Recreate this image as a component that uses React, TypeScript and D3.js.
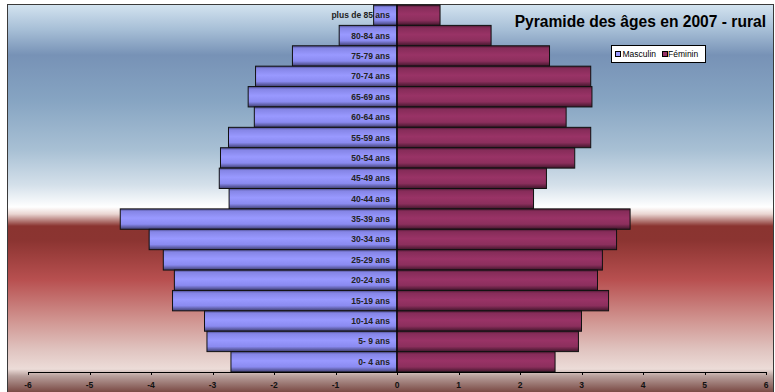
import React from "react";
import * as d3 from "d3";

const categories = [
  "0- 4 ans", "5- 9 ans", "10-14 ans", "15-19 ans", "20-24 ans", "25-29 ans",
  "30-34 ans", "35-39 ans", "40-44 ans", "45-49 ans", "50-54 ans", "55-59 ans",
  "60-64 ans", "65-69 ans", "70-74 ans", "75-79 ans", "80-84 ans", "plus de 85 ans",
];
const masculin = [2.70, 3.09, 3.13, 3.65, 3.62, 3.80, 4.03, 4.50, 2.73, 2.89, 2.87, 2.74, 2.32, 2.42, 2.30, 1.70, 0.94, 0.38];
const feminin = [2.57, 2.95, 3.00, 3.44, 3.26, 3.34, 3.57, 3.79, 2.22, 2.43, 2.89, 3.15, 2.75, 3.17, 3.15, 2.48, 1.53, 0.70];
const xTicks = [-6, -5, -4, -3, -2, -1, 0, 1, 2, 3, 4, 5, 6];
const title = "Pyramide des âges en 2007 - rural";
const legendLabels = ["Masculin", "Féminin"];

const W = 775;
const H = 392;

export default function App() {
  const x = d3.scaleLinear().domain([-6, 6]).range([28, 766]);
  const order = [...categories].reverse();
  const y = d3.scaleBand().domain(order).range([5, 372]).padding(0);
  const bh = y.bandwidth();

  const bgStops: [number, string][] = [
    [4, "#d4e4f0"], [30, "#a6bed6"], [55, "#7792b6"], [100, "#86a4c2"], [150, "#a8c0d4"],
    [185, "#d4e0ea"], [207, "#ffffff"], [214, "#ead6d2"], [226, "#8a3430"], [240, "#8b3431"],
    [280, "#b85050"], [320, "#d09490"], [350, "#e0c4c0"], [369, "#ecdcd8"], [376, "#b8a09c"],
    [392, "#7a4a44"],
  ];

  const font = "Arial, 'Liberation Sans', Helvetica, sans-serif";

  return (
    <svg width={W} height={H} style={{ position: "absolute", left: 0, top: 0, display: "block" }}>
      <defs>
        <linearGradient id="bg" gradientUnits="userSpaceOnUse" x1={0} y1={4} x2={0} y2={392}>
          {bgStops.map(([py, c], i) => (
            <stop key={i} offset={(py - 4) / 388} stopColor={c} />
          ))}
        </linearGradient>
        <linearGradient id="gm" x1={0} y1={0} x2={0} y2={1}>
          <stop offset={0} stopColor="#4a4a88" />
          <stop offset={0.12} stopColor="#8585e6" />
          <stop offset={0.45} stopColor="#9999ff" />
          <stop offset={0.75} stopColor="#8a8af0" />
          <stop offset={1} stopColor="#3e3e70" />
        </linearGradient>
        <linearGradient id="gf" x1={0} y1={0} x2={0} y2={1}>
          <stop offset={0} stopColor="#4c1a33" />
          <stop offset={0.12} stopColor="#862c59" />
          <stop offset={0.45} stopColor="#993366" />
          <stop offset={0.75} stopColor="#8c2f5d" />
          <stop offset={1} stopColor="#40162b" />
        </linearGradient>
      </defs>
      <rect x={0} y={0} width={W} height={H} fill="#ffffff" />
      <rect x={7.5} y={4.5} width={766} height={400} fill="url(#bg)" stroke="#3a3a3a" strokeWidth={1} />

      {order.map((c) => {
        const i = categories.indexOf(c);
        const yy = y(c)!;
        return (
          <g key={c}>
            <rect
              x={x(-masculin[i])}
              y={yy}
              width={x(0) - x(-masculin[i])}
              height={bh}
              fill="url(#gm)"
              stroke="#111"
              strokeWidth={1}
            />
            <rect
              x={x(0)}
              y={yy}
              width={x(feminin[i]) - x(0)}
              height={bh}
              fill="url(#gf)"
              stroke="#111"
              strokeWidth={1}
            />
          </g>
        );
      })}

      <line x1={x(0)} x2={x(0)} y1={5} y2={372} stroke="#000" strokeWidth={1} />

      {order.map((c) => (
        <text
          key={"l" + c}
          x={390}
          y={y(c)! + bh / 2}
          dy="0.35em"
          textAnchor="end"
          fontFamily={font}
          fontWeight="bold"
          fontSize={8.5}
          fill="#222"
        >
          {c}
        </text>
      ))}

      <line x1={x(-6)} x2={x(6)} y1={372.5} y2={372.5} stroke="#000" strokeWidth={1} />
      {xTicks.map((t) => (
        <g key={t}>
          <line x1={Math.round(x(t)) + 0.5} x2={Math.round(x(t)) + 0.5} y1={372} y2={375} stroke="#000" />
          <text
            x={x(t)}
            y={388}
            textAnchor="middle"
            fontFamily={font}
            fontWeight="bold"
            fontSize={8.5}
            fill="#111"
          >
            {t}
          </text>
        </g>
      ))}

      <text x={766} y={27} textAnchor="end" fontFamily={font} fontWeight="bold" fontSize={15.6} fill="#000">
        {title}
      </text>

      <rect x={611.5} y={45.5} width={94} height={17} fill="#fff" stroke="#000" strokeWidth={1} />
      <rect x={615.5} y={51.5} width={5} height={5} fill="#9999ff" stroke="#000" strokeWidth={1} />
      <text x={622.5} y={57} fontFamily={font} fontSize={8.5} fill="#000">{legendLabels[0]}</text>
      <rect x={662.5} y={51.5} width={5} height={5} fill="#993366" stroke="#000" strokeWidth={1} />
      <text x={668} y={57} fontFamily={font} fontSize={8.5} fill="#000">{legendLabels[1]}</text>
    </svg>
  );
}
